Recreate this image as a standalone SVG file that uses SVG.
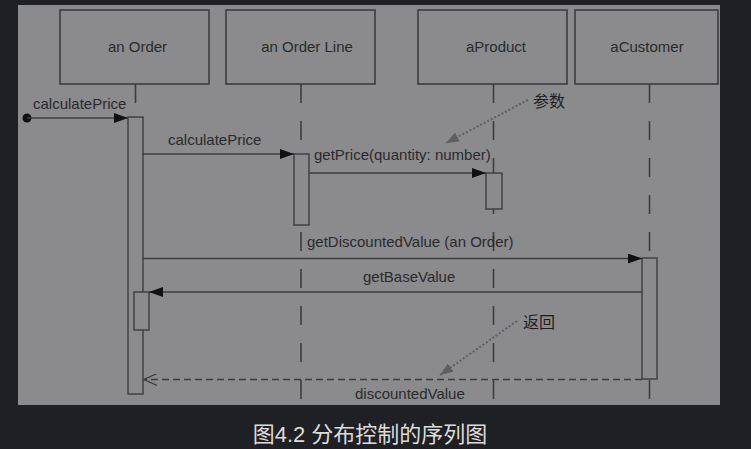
<svg xmlns="http://www.w3.org/2000/svg" width="751" height="449" viewBox="0 0 751 449">
<defs>
<style>
.box{fill:#8b8b8d;stroke:#3d3d3f;stroke-width:1.6}
.act{fill:#8b8b8d;stroke:#3d3d3f;stroke-width:1.4}
.life{stroke:#3d3d3f;stroke-width:1.6;stroke-dasharray:19 18;fill:none}
.msg{stroke:#3d3d3f;stroke-width:1.5;fill:none}
.ret{stroke:#3d3d3f;stroke-width:1.3;fill:none;stroke-dasharray:7 4}
.note{stroke:#5f5f61;stroke-width:2;fill:none;stroke-dasharray:2 2}
.lbl{font-family:"Liberation Sans",Arial,sans-serif;font-size:15px;fill:#2a2a2c}
.nlbl{font-family:"Liberation Sans","Noto Sans CJK SC",sans-serif;font-size:16px;fill:#1e1e20}
.cap{font-family:"Liberation Sans","Noto Sans CJK SC",sans-serif;font-size:22px;fill:#dcdcdc}
</style>
<marker id="fill" markerWidth="14" markerHeight="10" refX="14" refY="5" orient="auto" markerUnits="userSpaceOnUse">
<path d="M0,0 L14,5 L0,10 Z" fill="#111"/>
</marker>
<marker id="open" markerWidth="14" markerHeight="12" refX="13" refY="6" orient="auto" markerUnits="userSpaceOnUse">
<path d="M0,0 L13,6 L0,12" fill="none" stroke="#3d3d3f" stroke-width="1.2"/>
</marker>
<marker id="gray" markerWidth="14" markerHeight="10" refX="13" refY="5" orient="auto" markerUnits="userSpaceOnUse">
<path d="M0,0 L13,5 L0,10 Z" fill="#5f5f61"/>
</marker>
</defs>
<rect width="751" height="449" fill="#1f2023"/>
<rect x="18" y="5" width="702" height="400" fill="#8b8b8d"/>

<g id="lifelines">
<line class="life" x1="135.5" y1="84" x2="135.5" y2="117" stroke-dasharray="19 100"/>
<line class="life" x1="301" y1="84" x2="301" y2="405"/>
<line class="life" x1="493.5" y1="84" x2="493.5" y2="405"/>
<line class="life" x1="649.5" y1="84" x2="649.5" y2="405"/>
</g>

<g id="node-order">
<rect class="box" x="60" y="10" width="149" height="74"/>
<text class="lbl" x="137.5" y="52" text-anchor="middle">an Order</text>
</g>
<g id="node-orderline">
<rect class="box" x="226" y="10" width="149" height="74"/>
<text class="lbl" x="307" y="52" text-anchor="middle">an Order Line</text>
</g>
<g id="node-product">
<rect class="box" x="418" y="10" width="149" height="74"/>
<text class="lbl" x="496" y="52" text-anchor="middle">aProduct</text>
</g>
<g id="node-customer">
<rect class="box" x="575" y="10" width="143" height="74"/>
<text class="lbl" x="647" y="52" text-anchor="middle">aCustomer</text>
</g>

<g id="activations">
<rect class="act" x="128" y="117" width="15" height="277"/>
<rect class="act" x="134" y="292" width="15" height="38"/>
<rect class="act" x="294" y="154" width="15" height="71"/>
<rect class="act" x="486" y="173" width="16" height="36"/>
<rect class="act" x="642" y="258" width="15" height="121"/>
</g>

<g id="connectors">
<circle cx="27" cy="118" r="4.5" fill="#111"/>
<line class="msg" x1="27" y1="118" x2="128" y2="118" marker-end="url(#fill)"/>
<text class="lbl" x="33" y="109">calculatePrice</text>

<line class="msg" x1="143" y1="154" x2="294" y2="154" marker-end="url(#fill)"/>
<text class="lbl" x="168" y="145">calculatePrice</text>

<line class="msg" x1="309" y1="173" x2="486" y2="173" marker-end="url(#fill)"/>
<text class="lbl" x="314" y="160">getPrice(quantity: number)</text>

<line class="msg" x1="143" y1="258.5" x2="642" y2="258.5" marker-end="url(#fill)"/>
<text class="lbl" x="307" y="247">getDiscountedValue (an Order)</text>

<line class="msg" x1="642" y1="292" x2="149" y2="292" marker-end="url(#fill)"/>
<text class="lbl" x="363" y="282">getBaseValue</text>

<line class="ret" x1="642" y1="379.5" x2="144" y2="379.5" marker-end="url(#open)"/>
<text class="lbl" x="355" y="399">discountedValue</text>

<line class="note" x1="528" y1="100" x2="446" y2="143" marker-end="url(#gray)"/>
<line class="note" x1="517" y1="321" x2="440" y2="375" marker-end="url(#gray)"/>
</g>

<g id="notes">
<text class="nlbl" x="533" y="107">参数</text>
<text class="nlbl" x="523" y="328">返回</text>
</g>

<text class="cap" x="370" y="442" text-anchor="middle">图4.2 分布控制的序列图</text>
</svg>
